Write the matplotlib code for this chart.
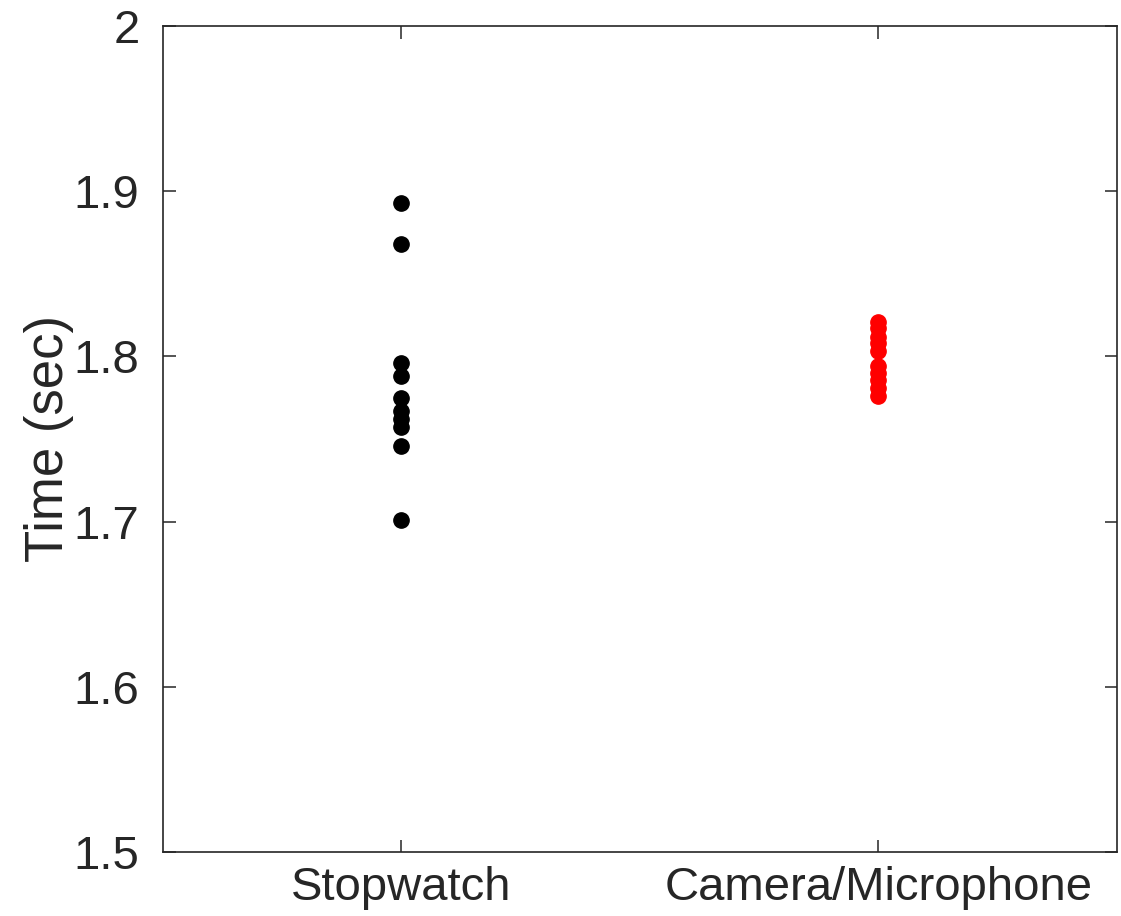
import matplotlib
matplotlib.use("Agg")
import matplotlib.pyplot as plt

categories = ["Stopwatch", "Camera/Microphone"]
stopwatch = [1.893, 1.868, 1.796, 1.788, 1.775, 1.767, 1.762, 1.757, 1.746, 1.701]
camera = [1.821, 1.817, 1.812, 1.808, 1.803, 1.794, 1.790, 1.786, 1.781, 1.776]
yticks = [1.5, 1.6, 1.7, 1.8, 1.9, 2.0]
yticklabels = ["1.5", "1.6", "1.7", "1.8", "1.9", "2"]

plt.rcParams['font.family'] = ['Liberation Sans', 'DejaVu Sans']
fig = plt.figure(figsize=(11.21, 9.16), dpi=100)
ax = fig.add_axes([0.1454, 0.0699, 0.8510, 0.9017])

ax.plot([1] * len(stopwatch), stopwatch, 'o', color='black', markersize=11, linestyle='none')
ax.plot([2] * len(camera), camera, 'o', color='red', markersize=11, linestyle='none')

ax.set_xlim(0.5, 2.5)
ax.set_ylim(1.5, 2.0)
ax.set_xticks([1, 2])
ax.set_xticklabels(categories)
ax.set_yticks(yticks)
ax.set_yticklabels(yticklabels)

edge = '#262626'
for s in ax.spines.values():
    s.set_color(edge)
    s.set_linewidth(1.2)
ax.tick_params(direction='in', length=9, width=1.1, colors=edge, labelsize=34,
               top=True, right=True)
ax.tick_params(axis='x', pad=10)
ax.tick_params(axis='y', pad=17)
for lab in ax.get_xticklabels() + ax.get_yticklabels():
    lab.set_color(edge)
ax.set_ylabel("Time (sec)", fontsize=38, color=edge, labelpad=0)

fig.savefig("out.png", dpi=100)
